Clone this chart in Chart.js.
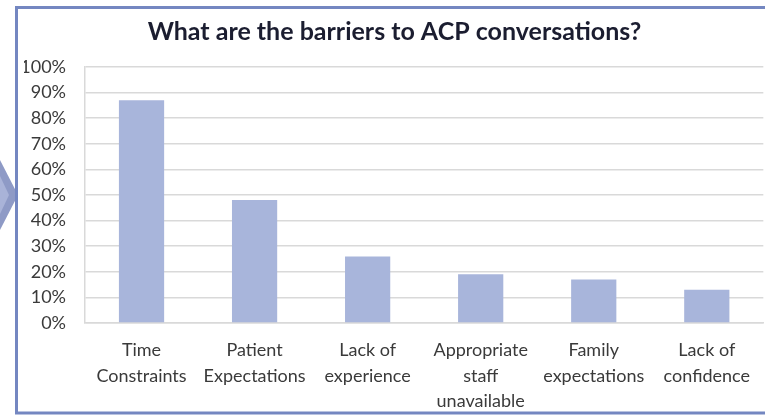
<!DOCTYPE html>
<html>
<head>
<meta charset="utf-8">
<script src="https://cdn.jsdelivr.net/npm/chart.js@4/dist/chart.umd.min.js"></script>
<style>
  html, body { margin: 0; padding: 0; background: #fff; }
  canvas { display: block; }
</style>
</head>
<body>
<canvas id="barriers" width="765" height="416"></canvas>
<script>
  // data
  const categories = [
    ['Time', 'Constraints'],
    ['Patient', 'Expectations'],
    ['Lack of', 'experience'],
    ['Appropriate', 'staff', 'unavailable'],
    ['Family', 'expectations'],
    ['Lack of', 'confidence']
  ];
  const percentValues = [87, 48, 26, 19, 17, 13];
  const yTicks = [0, 10, 20, 30, 40, 50, 60, 70, 80, 90, 100];

  // frame border and the little arrow on the left
  const framePlugin = {
    id: 'frame',
    afterDraw(chart) {
      const ctx = chart.ctx;
      ctx.save();
      ctx.fillStyle = '#8e9ac6';
      ctx.beginPath();
      ctx.moveTo(0, 160);
      ctx.lineTo(18, 195);
      ctx.lineTo(0, 230);
      ctx.closePath();
      ctx.fill();
      ctx.fillStyle = '#a9b3d8';
      ctx.beginPath();
      ctx.moveTo(0, 176);
      ctx.lineTo(9, 195);
      ctx.lineTo(0, 214);
      ctx.closePath();
      ctx.fill();

      ctx.strokeStyle = '#7487c1';
      ctx.lineWidth = 3;
      ctx.beginPath();
      ctx.moveTo(765, 7.5);
      ctx.lineTo(16.5, 7.5);
      ctx.lineTo(16.5, 413);
      ctx.lineTo(765, 413);
      ctx.stroke();
      ctx.restore();
    }
  };

  new Chart(document.getElementById('barriers'), {
    type: 'bar',
    data: {
      labels: categories,
      datasets: [{
        data: percentValues,
        backgroundColor: '#a8b5db',
        barPercentage: 0.4,
        categoryPercentage: 1
      }]
    },
    options: {
      responsive: false,
      animation: false,
      layout: { padding: { left: 24 } },
      plugins: {
        legend: { display: false },
        tooltip: { enabled: false },
        title: {
          display: true,
          text: 'What are the barriers to ACP conversations?',
          color: '#1b1d30',
          font: { family: 'Lato', size: 25, weight: 'bold', lineHeight: 1.2 },
          padding: { top: 17, bottom: 20 }
        }
      },
      scales: {
        x: {
          afterFit(scale) { scale.height = 93; },
          grid: { display: false, drawTicks: false },
          border: { display: true, color: '#d9d9d9', width: 1.5 },
          ticks: {
            color: '#3a3a3a',
            font: { family: 'Lato', size: 18, lineHeight: 1.4 },
            padding: 15,
            maxRotation: 0,
            autoSkip: false
          }
        },
        y: {
          min: 0,
          max: 100,
          afterFit(scale) { scale.width = 61; },
          afterBuildTicks(scale) { scale.ticks = yTicks.map(v => ({ value: v })); },
          grid: { color: '#d9d9d9', lineWidth: 1.5, drawTicks: false },
          border: { display: true, color: '#d9d9d9', width: 1.5 },
          ticks: {
            color: '#3a3a3a',
            font: { family: 'Lato', size: 18 },
            padding: 19,
            callback: v => v + '%'
          }
        }
      }
    },
    plugins: [framePlugin]
  });
</script>
</body>
</html>
